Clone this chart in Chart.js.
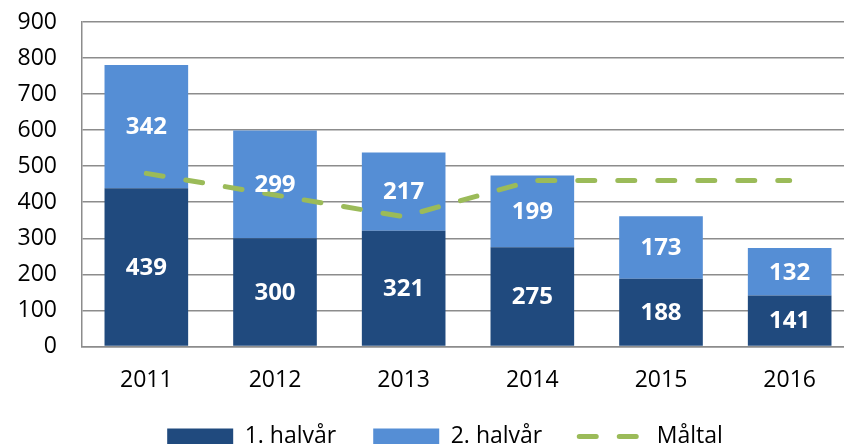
<!DOCTYPE html>
<html>
<head>
<meta charset="utf-8">
<script src="https://cdn.jsdelivr.net/npm/chart.js@4/dist/chart.umd.min.js"></script>
<style>
  html, body { margin: 0; padding: 0; background: #fff; overflow: hidden; }
  #wrap { width: 892px; height: 458px; position: relative; }
</style>
</head>
<body>
<div id="wrap"><canvas id="grafik"></canvas></div>
<script>
// data
const years = ['2011', '2012', '2013', '2014', '2015', '2016'];
const forstaHalvar = [439, 300, 321, 275, 188, 141];
const andraHalvar = [342, 299, 217, 199, 173, 132];
const maltal = [480, 420, 360, 460, 460, 460];
const yTicks = [0, 100, 200, 300, 400, 500, 600, 700, 800, 900];

const fontFam = '"Open Sans", "Liberation Sans", sans-serif';
const maltalDash = [17, 23];

// etiketter mitt i varje stapeldel
const barLabels = {
  id: 'barLabels',
  afterDatasetsDraw(chart) {
    const ctx = chart.ctx;
    ctx.save();
    ctx.font = 'bold 24px ' + fontFam;
    ctx.fillStyle = '#ffffff';
    ctx.textAlign = 'center';
    ctx.textBaseline = 'middle';
    chart.data.datasets.forEach((ds, i) => {
      if (ds.type !== 'bar') return;
      chart.getDatasetMeta(i).data.forEach((el, j) => {
        ctx.fillText(ds.data[j], el.x, (el.y + el.base) / 2 + 1);
      });
    });
    ctx.restore();
  }
};

// flytta förklaringen lite åt höger (originalet är beskuret)
const legendShift = {
  id: 'legendShift',
  afterLayout(chart) {
    if (chart.legend) {
      chart.legend.left += 18;
      chart.legend.right += 18;
    }
  }
};

const ctx = document.getElementById('grafik').getContext('2d');
new Chart(ctx, {
  data: {
    labels: years,
    datasets: [
      {
        type: 'bar',
        label: '1. halvår',
        data: forstaHalvar,
        backgroundColor: '#204A7E',
        stack: 'ansok',
        order: 1,
        pointStyle: 'rect',
        categoryPercentage: 1,
        barPercentage: 0.65
      },
      {
        type: 'bar',
        label: '2. halvår',
        data: andraHalvar,
        backgroundColor: '#558ED5',
        stack: 'ansok',
        order: 1,
        pointStyle: 'rect',
        categoryPercentage: 1,
        barPercentage: 0.65
      },
      {
        type: 'line',
        label: 'Måltal',
        data: maltal,
        borderColor: '#9BBB59',
        backgroundColor: '#9BBB59',
        borderWidth: 5,
        borderDash: maltalDash,
        borderCapStyle: 'round',
        pointRadius: 0,
        tension: 0,
        fill: false,
        stack: 'mal',
        order: 0,
        pointStyle: 'line'
      }
    ]
  },
  options: {
    responsive: true,
    maintainAspectRatio: false,
    animation: false,
    layout: { padding: { top: 22, right: 38, left: 0, bottom: 0 } },
    plugins: {
      legend: {
        position: 'bottom',
        labels: {
          usePointStyle: true,
          pointStyleWidth: 66,
          boxHeight: 16,
          padding: 37,
          color: '#000',
          font: { family: fontFam, size: 23 },
          sort: (a, b) => a.datasetIndex - b.datasetIndex,
          generateLabels: (chart) => {
            const items = Chart.defaults.plugins.legend.labels.generateLabels(chart);
            items.forEach(it => {
              const ds = chart.data.datasets[it.datasetIndex];
              if (ds.type === 'line') {
                it.strokeStyle = ds.borderColor;
                it.lineWidth = ds.borderWidth;
                it.lineDash = ds.borderDash;
                it.lineCap = 'round';
              }
            });
            return items;
          }
        }
      },
      tooltip: { enabled: false }
    },
    scales: {
      x: {
        stacked: true,
        afterFit: (scale) => { scale.height -= 26; },
        grid: { display: false, drawTicks: false },
        border: { display: true, color: '#8c8c8c', width: 1.5 },
        ticks: {
          color: '#000',
          padding: 20,
          font: { family: fontFam, size: 23 }
        }
      },
      y: {
        stacked: true,
        min: 0,
        max: 900,
        afterBuildTicks: (scale) => { scale.ticks = yTicks.map(v => ({ value: v })); },
        afterFit: (scale) => {
          scale.width = 82;
          scale.paddingTop = 0;
          scale.paddingBottom = 0;
        },
        grid: { color: '#8c8c8c', lineWidth: 1.5, drawTicks: false },
        border: { display: true, color: '#8c8c8c', width: 1.5 },
        ticks: {
          color: '#000',
          padding: 25,
          font: { family: fontFam, size: 23 }
        }
      }
    }
  },
  plugins: [barLabels, legendShift]
});
</script>
</body>
</html>
